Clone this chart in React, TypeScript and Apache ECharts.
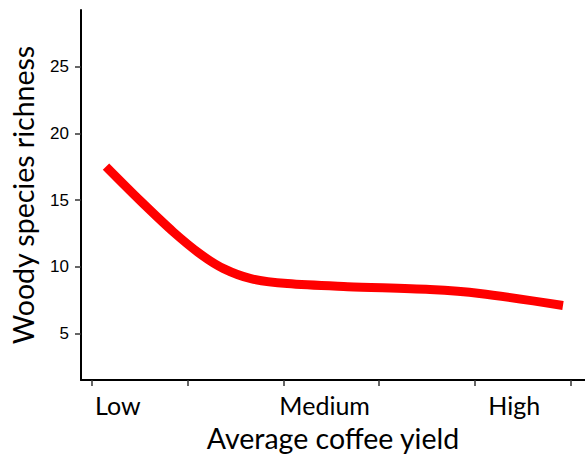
import React, { useEffect, useRef } from "react";
import * as echarts from "echarts";

const xValues = [0.146, 0.51, 0.85, 1.14, 1.375, 1.66, 2.04, 2.67, 3.53, 4.05, 4.92];
const richness = [17.5, 14.9, 12.6, 10.9, 9.85, 9.1, 8.73, 8.5, 8.28, 7.99, 7.09];
const xTickValues = [0, 1, 2, 3, 4, 5];
const yieldLabels = ["Low", "Medium", "High"];
const yieldLabelValues = [0.27, 2.43, 4.41];
const yTickValues = [5, 10, 15, 20, 25];

export default function App() {
  const ref = useRef<HTMLDivElement>(null);
  useEffect(() => {
    document.body.style.margin = "0";
    const chart = echarts.init(ref.current!, null, { renderer: "svg" });
    chart.setOption({
      animation: false,
      backgroundColor: "#fff",
      grid: { left: 80, top: 10, right: 0, bottom: 76 },
      xAxis: {
        type: "value",
        min: -0.115,
        max: 5.15,
        name: "Average coffee yield",
        nameLocation: "middle",
        nameGap: 43,
        nameTextStyle: { fontFamily: "Lato", fontSize: 28.5, color: "#000" },
        splitLine: { show: false },
        axisLine: { show: true, onZero: false, lineStyle: { color: "#000", width: 2 } },
        axisTick: { show: true, customValues: xTickValues, length: 6, lineStyle: { color: "#333", width: 1.5 } },
        axisLabel: {
          customValues: yieldLabelValues,
          formatter: (v: number) => {
            const i = yieldLabelValues.findIndex((p) => Math.abs(p - v) < 1e-6);
            return i >= 0 ? yieldLabels[i] : "";
          },
          margin: 12,
          fontFamily: "Lato",
          fontSize: 25,
          color: "#000",
        },
      },
      yAxis: {
        type: "value",
        min: 1.5,
        max: 29.25,
        name: "Woody species richness",
        nameLocation: "middle",
        nameGap: 44,
        nameTextStyle: { fontFamily: "Lato", fontSize: 28.5, color: "#000" },
        splitLine: { show: false },
        axisLine: { show: true, onZero: false, lineStyle: { color: "#000", width: 2 } },
        axisTick: { show: true, customValues: yTickValues, length: 6, lineStyle: { color: "#333", width: 1.5 } },
        axisLabel: {
          customValues: yTickValues,
          margin: 12,
          fontFamily: "Liberation Sans",
          fontSize: 17,
          color: "#000",
        },
      },
      series: [
        {
          type: "line",
          data: xValues.map((x, i) => [x, richness[i]]),
          smooth: 0.3,
          showSymbol: false,
          lineStyle: { color: "#ff0000", width: 9, cap: "butt" },
        },
      ],
    });
    return () => chart.dispose();
  }, []);
  return <div ref={ref} style={{ width: 585, height: 457 }} />;
}
